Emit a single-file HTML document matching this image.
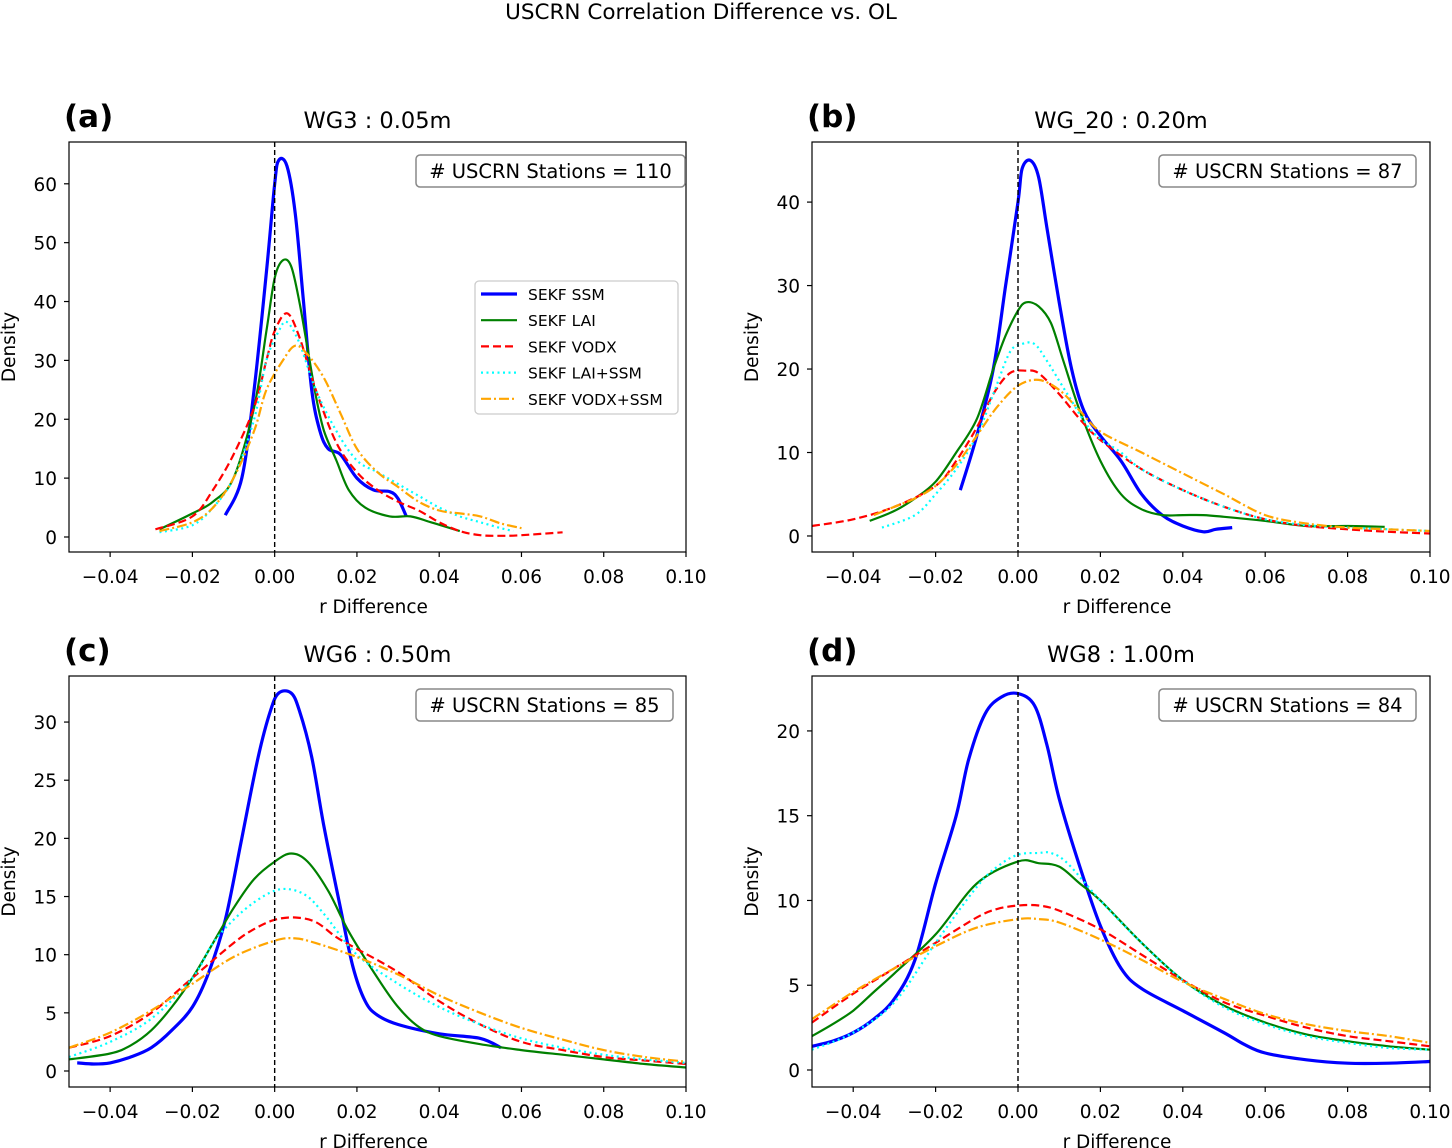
<!DOCTYPE html>
<html><head><meta charset="utf-8">
<style>
html,body{margin:0;padding:0;background:#fff;}
svg{display:block;font-family:"DejaVu Sans","Liberation Sans",sans-serif;}
</style></head>
<body>
<svg id="fig" width="1452" height="1148" viewBox="0 0 1452 1148" xmlns="http://www.w3.org/2000/svg">
<rect width="1452" height="1148" fill="#fff"/>
<text x="701" y="19" font-size="21.5" text-anchor="middle">USCRN Correlation Difference vs. OL</text>
</svg>
<script>
// ---- data ----
const seriesNames = ["SEKF SSM","SEKF LAI","SEKF VODX","SEKF LAI+SSM","SEKF VODX+SSM"];
const xTicks = [-0.04,-0.02,0.00,0.02,0.04,0.06,0.08,0.10];
const xTickLabels = ["\u22120.04","\u22120.02","0.00","0.02","0.04","0.06","0.08","0.10"];
const panelLabels = ["(a)","(b)","(c)","(d)"];
const panelTitles = ["WG3 : 0.05m","WG_20 : 0.20m","WG6 : 0.50m","WG8 : 1.00m"];
const stationCounts = [110,87,85,84];
const yTicksA = [0,10,20,30,40,50,60];
const yTicksB = [0,10,20,30,40];
const yTicksC = [0,5,10,15,20,25,30];
const yTicksD = [0,5,10,15,20];

const aSSMx=[-0.012,-0.008,-0.005,-0.002,0,0.001,0.003,0.005,0.007,0.009,0.011,0.013,0.016,0.02,0.024,0.028,0.03,0.032];
const aSSMy=[3.7,10,25,45,60,64,63,55,40,25,18,15,14,10,8,7.7,6.5,3.5];
const aLAIx=[-0.028,-0.02,-0.015,-0.01,-0.005,-0.002,0,0.002,0.004,0.006,0.008,0.01,0.012,0.015,0.018,0.022,0.028,0.033,0.038,0.045];
const aLAIy=[1.3,4,6,10,22,35,44,47,46,40,32,24,18,13,8,5,3.5,3.5,2.5,1];
const aVODx=[-0.029,-0.02,-0.015,-0.01,-0.005,-0.002,0,0.003,0.006,0.01,0.015,0.02,0.025,0.03,0.035,0.04,0.045,0.05,0.055,0.06,0.07];
const aVODy=[1.3,3.5,8,14,22,30,35,38,34,25,16,11,8,6,4.5,2.5,1,0.3,0.2,0.3,0.8];
const aLSx=[-0.028,-0.02,-0.015,-0.01,-0.005,-0.002,0.001,0.003,0.006,0.01,0.015,0.02,0.025,0.03,0.035,0.04,0.045,0.05,0.055,0.058];
const aLSy=[0.8,2,5,10,20,30,35,36.5,33,25,18,13,11,9,7,5,3.5,2.5,1.5,1];
const aVSx=[-0.028,-0.02,-0.015,-0.01,-0.005,-0.002,0.002,0.005,0.008,0.012,0.016,0.02,0.025,0.03,0.035,0.04,0.045,0.05,0.055,0.06];
const aVSy=[1,2.5,5,10,18,25,30,32.5,31,27,21,15,11,8.5,6,4.5,4,3.5,2.3,1.5];

const bSSMx=[-0.014,-0.01,-0.006,-0.003,0,0.001,0.003,0.005,0.007,0.01,0.013,0.016,0.02,0.025,0.03,0.035,0.04,0.045,0.048,0.052];
const bSSMy=[5.5,12,20,30,40,44,45,43,37,28,20,15,12,9,5,2.5,1.2,0.5,0.8,1];
const bLAIx=[-0.036,-0.03,-0.025,-0.02,-0.015,-0.01,-0.006,-0.003,0,0.002,0.005,0.008,0.011,0.015,0.02,0.025,0.03,0.035,0.04,0.045,0.05,0.06,0.07,0.08,0.089];
const bLAIy=[1.8,3,4.5,6.5,10,14,20,24,27,28,27.5,25.5,21,15,9,5,3.2,2.5,2.5,2.5,2.3,1.8,1.2,1.2,1.1];
const bVODx=[-0.05,-0.04,-0.03,-0.02,-0.015,-0.01,-0.006,-0.002,0.002,0.005,0.01,0.015,0.02,0.03,0.04,0.05,0.06,0.07,0.08,0.09,0.1];
const bVODy=[1.2,2,3.5,6,9,13,17,19.5,19.8,19.5,17,14,11.5,8,5.5,3.5,2,1.2,0.8,0.5,0.3];
const bLSx=[-0.033,-0.025,-0.02,-0.015,-0.01,-0.006,-0.002,0.001,0.004,0.007,0.012,0.018,0.025,0.03,0.04,0.05,0.06,0.07,0.08,0.09,0.1];
const bLSy=[1,2.5,5,8,12,17,22,23,23,21,17,12.5,10,8,5.5,3.5,2,1.3,1,0.8,0.6];
const bVSx=[-0.035,-0.03,-0.025,-0.02,-0.015,-0.01,-0.005,0,0.005,0.01,0.015,0.02,0.03,0.04,0.05,0.06,0.07,0.08,0.09,0.1];
const bVSy=[2.5,3.5,4.5,6,8.5,12,15.5,18,18.7,17.5,15,12.5,10,7.5,5,2.5,1.5,1,0.8,0.6];

const cSSMx=[-0.048,-0.044,-0.04,-0.035,-0.03,-0.025,-0.02,-0.016,-0.012,-0.008,-0.004,-0.001,0.001,0.004,0.006,0.009,0.012,0.016,0.019,0.022,0.025,0.03,0.04,0.05,0.055];
const cSSMy=[0.7,0.6,0.7,1.2,2,3.5,5.5,8.5,13,20,27,31,32.5,32.5,31,27,21,14,9,6,4.8,4,3.2,2.8,2];
const cLAIx=[-0.05,-0.04,-0.035,-0.03,-0.025,-0.02,-0.015,-0.01,-0.005,0,0.004,0.008,0.013,0.018,0.025,0.03,0.035,0.04,0.05,0.06,0.07,0.08,0.09,0.1];
const cLAIy=[1,1.5,2.2,3.5,5.5,8,11,14,16.5,18,18.7,18,15.5,12,8,5.5,3.8,3,2.3,1.8,1.4,1,0.6,0.3];
const cVODx=[-0.05,-0.04,-0.03,-0.02,-0.01,-0.005,0,0.005,0.01,0.015,0.02,0.03,0.04,0.05,0.06,0.07,0.08,0.09,0.1];
const cVODy=[2,3,5,8,11,12.2,13,13.2,12.8,11.5,10.5,8.5,6,4,2.5,1.8,1.2,0.9,0.6];
const cLSx=[-0.05,-0.04,-0.03,-0.02,-0.015,-0.01,-0.005,0,0.004,0.008,0.012,0.02,0.03,0.04,0.05,0.06,0.07,0.08,0.09,0.1];
const cLSy=[1.2,2.5,4.5,8,11,13,14.5,15.5,15.6,15,13.5,10,7.5,5.5,4,2.8,2,1.4,1,0.7];
const cVSx=[-0.05,-0.04,-0.03,-0.02,-0.01,0,0.005,0.01,0.02,0.03,0.04,0.05,0.06,0.07,0.08,0.09,0.1];
const cVSy=[2,3.3,5.2,7.5,9.8,11.2,11.4,11,9.8,8.3,6.5,5,3.7,2.7,1.8,1.2,0.8];

const dSSMx=[-0.05,-0.045,-0.04,-0.035,-0.03,-0.025,-0.02,-0.015,-0.012,-0.008,-0.004,0,0.004,0.007,0.01,0.015,0.02,0.025,0.03,0.04,0.05,0.055,0.06,0.07,0.08,0.09,0.1];
const dSSMy=[1.4,1.7,2.2,3,4.2,6.5,11,15,18.3,21,22,22.2,21.5,19.2,16,12,8.5,6,4.8,3.5,2.2,1.5,1,0.6,0.4,0.4,0.5];
const dLAIx=[-0.05,-0.045,-0.04,-0.035,-0.03,-0.02,-0.01,0,0.005,0.01,0.015,0.02,0.03,0.04,0.05,0.06,0.07,0.08,0.09,0.1];
const dLAIy=[2,2.7,3.5,4.6,5.7,8,11,12.3,12.2,12,11,10,7.5,5.3,3.8,2.8,2.1,1.7,1.4,1.2];
const dVODx=[-0.05,-0.04,-0.03,-0.02,-0.01,-0.005,0,0.005,0.01,0.02,0.03,0.04,0.05,0.06,0.07,0.08,0.09,0.1];
const dVODy=[2.8,4.5,6,7.5,9,9.5,9.7,9.7,9.4,8.3,6.8,5.3,4,3.2,2.5,2,1.7,1.4];
const dLSx=[-0.05,-0.04,-0.03,-0.02,-0.01,-0.005,0,0.005,0.008,0.012,0.02,0.03,0.04,0.05,0.06,0.07,0.08,0.09,0.1];
const dLSy=[1.2,2.2,4,7.5,10.8,12,12.7,12.8,12.8,12.2,10,7.5,5.3,3.7,2.7,2,1.6,1.3,1.2];
const dVSx=[-0.05,-0.04,-0.03,-0.02,-0.01,0,0.005,0.01,0.02,0.03,0.04,0.05,0.06,0.07,0.08,0.09,0.1];
const dVSy=[3,4.6,6,7.3,8.4,8.9,8.9,8.7,7.7,6.5,5.2,4.2,3.3,2.7,2.3,2,1.6];

const NS="http://www.w3.org/2000/svg";
const svg=document.getElementById('fig');
const styles=[
 {c:"#0000ff",w:3.2,d:""},
 {c:"#008000",w:2.2,d:""},
 {c:"#ff0000",w:2.2,d:"8,4"},
 {c:"#00ffff",w:2.2,d:"2,3.5"},
 {c:"#ffa500",w:2.2,d:"10,3,2,3"}];
function mk(tag,attrs,parent){const e=document.createElementNS(NS,tag);for(const k in attrs)e.setAttribute(k,attrs[k]);(parent||svg).appendChild(e);return e;}
function smoothPath(P){
 let d='M'+P[0][0].toFixed(1)+','+P[0][1].toFixed(1);
 for(let i=0;i<P.length-1;i++){
  const p0=P[Math.max(0,i-1)],p1=P[i],p2=P[i+1],p3=P[Math.min(P.length-1,i+2)];
  const c1=[p1[0]+(p2[0]-p0[0])/6,p1[1]+(p2[1]-p0[1])/6];
  const c2=[p2[0]-(p3[0]-p1[0])/6,p2[1]-(p3[1]-p1[1])/6];
  d+=' C'+c1.map(v=>v.toFixed(1)).join(',')+' '+c2.map(v=>v.toFixed(1)).join(',')+' '+p2[0].toFixed(1)+','+p2[1].toFixed(1);
 }
 return d;
}

const panels=[
 {L:69,R:686,T:142,B:552,ymin:-2.55,ymax:67.1,yt:yTicksA,s:[[aSSMx,aSSMy],[aLAIx,aLAIy],[aVODx,aVODy],[aLSx,aLSy],[aVSx,aVSy]],legend:true,bw:269},
 {L:812,R:1430,T:142,B:552,ymin:-1.92,ymax:47.2,yt:yTicksB,s:[[bSSMx,bSSMy],[bLAIx,bLAIy],[bVODx,bVODy],[bLSx,bLSy],[bVSx,bVSy]],bw:257},
 {L:69,R:686,T:676,B:1087,ymin:-1.376,ymax:33.96,yt:yTicksC,s:[[cSSMx,cSSMy],[cLAIx,cLAIy],[cVODx,cVODy],[cLSx,cLSy],[cVSx,cVSy]],bw:257},
 {L:812,R:1430,T:676,B:1087,ymin:-1.003,ymax:23.24,yt:yTicksD,s:[[dSSMx,dSSMy],[dLAIx,dLAIy],[dVODx,dVODy],[dLSx,dLSy],[dVSx,dVSy]],bw:257}];

panels.forEach((p,i)=>{
 const g=mk('g',{});
 
 
 const X=v=>p.L+(v+0.05)/0.15*(p.R-p.L);
 const Y=v=>p.B-(v-p.ymin)/(p.ymax-p.ymin)*(p.B-p.T);
 const cp=mk('clipPath',{id:'clip'+i},g);
 mk('rect',{x:p.L,y:p.T,width:p.R-p.L,height:p.B-p.T},cp);
 p.s.forEach((sr,j)=>{
  const st=styles[j];
  const P=sr[0].map((x,k)=>[X(x),Y(sr[1][k])]);
  const pl=mk('path',{d:smoothPath(P),fill:'none',stroke:st.c,'stroke-width':st.w,'stroke-dasharray':st.d,'stroke-linejoin':'round','clip-path':'url(#clip'+i+')'},g);
  
  
 });
 const zl=mk('line',{x1:X(0),x2:X(0),y1:p.T,y2:p.B,stroke:'#000','stroke-width':1.4,'stroke-dasharray':'5,3'},g);
 
 
 const fr=mk('rect',{x:p.L,y:p.T,width:p.R-p.L,height:p.B-p.T,fill:'none',stroke:'#000','stroke-width':1.2},g);
 
 
 xTicks.forEach((t,k)=>{
  mk('line',{x1:X(t),x2:X(t),y1:p.B,y2:p.B+5,stroke:'#000','stroke-width':1.2},g);
  const tx=mk('text',{x:X(t),y:p.B+31,'font-size':18.5,'text-anchor':'middle'},g);
  tx.textContent=xTickLabels[k];
  
  
 });
 p.yt.forEach(t=>{
  mk('line',{x1:p.L-5,x2:p.L,y1:Y(t),y2:Y(t),stroke:'#000','stroke-width':1.2},g);
  const tx=mk('text',{x:p.L-12,y:Y(t)+7,'font-size':18.5,'text-anchor':'end'},g);
  tx.textContent=t;
  
  
 });
 const xl=mk('text',{x:(p.L+p.R)/2-4,y:p.B+61,'font-size':18.5,'text-anchor':'middle'},g);
 xl.textContent='r Difference';
 
 
 const yx=p.L-54, yy=(p.T+p.B)/2;
 const yl=mk('text',{x:yx,y:yy,'font-size':18.5,'text-anchor':'middle',transform:'rotate(-90 '+yx+' '+yy+')'},g);
 yl.textContent='Density';
 
 
 const pl=mk('text',{x:p.L-5,y:p.T-15,'font-size':31,'font-weight':'bold'},g);
 pl.textContent=panelLabels[i];
 
 
 const tt=mk('text',{x:(p.L+p.R)/2,y:p.T-14,'font-size':22.5,'text-anchor':'middle'},g);
 tt.textContent=panelTitles[i];
 
 
 const bx=p.L+347;
 const sb=mk('rect',{x:bx,y:p.T+13,width:p.bw,height:32,rx:4,fill:'#fff',stroke:'#888','stroke-width':1.5},g);
 
 
 const st=mk('text',{x:bx+p.bw/2,y:p.T+36,'font-size':19.5,'text-anchor':'middle'},g);
 st.textContent='# USCRN Stations = '+stationCounts[i];
 
 
 if(p.legend){
  const lg=mk('g',{},g);
  
  
  mk('rect',{x:475,y:281,width:203,height:133,rx:4,fill:'#fff',stroke:'#ccc','stroke-width':1.3},lg);
  seriesNames.forEach((n,j)=>{
   const yy=294+j*26.2, s=styles[j];
   const e=mk('g',{},lg);
   
   
   mk('line',{x1:481,x2:517,y1:yy,y2:yy,stroke:s.c,'stroke-width':s.w,'stroke-dasharray':s.d},e);
   const t=mk('text',{x:528,y:yy+6,'font-size':15.5},e);
   t.textContent=n;
  });
 }
});
</script>
</body></html>
